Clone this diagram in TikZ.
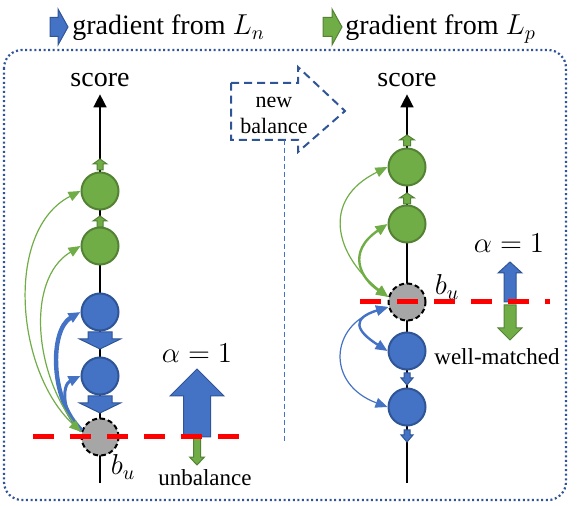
\documentclass[tikz,border=0pt]{standalone}
\usepackage{fontspec}
\setmainfont{Liberation Serif}
\usepackage{tikz}
\usetikzlibrary{arrows.meta,positioning,calc}
\definecolor{gfill}{HTML}{70AD47}
\definecolor{gline}{HTML}{548235}
\definecolor{bfill}{HTML}{4472C4}
\definecolor{bline}{HTML}{2F5597}
\definecolor{ufill}{HTML}{A6A6A6}
% block arrows: style, x, tail, head base, tip, half shaft, half head
\newcommand{\blockv}[7]{\filldraw[#1] ({#2-#6},#3) -- ({#2-#6},#4) -- ({#2-#7},#4) -- (#2,#5) -- ({#2+#7},#4) -- ({#2+#6},#4) -- ({#2+#6},#3) -- cycle;}
\newcommand{\blockh}[7]{\filldraw[#1] (#3,{#2-#6}) -- (#4,{#2-#6}) -- (#4,{#2-#7}) -- (#5,#2) -- (#4,{#2+#7}) -- (#4,{#2+#6}) -- (#3,{#2+#6}) -- cycle;}

\begin{document}
\begin{tikzpicture}[x=0.5pt, y=-0.5pt, >={Triangle[length=6pt,width=5pt]},
  every node/.style={font=\fontsize{14}{16}\selectfont},
  small/.style={font=\fontsize{11.5}{13}\selectfont},
  ball/.style={circle, minimum size=18.5pt, inner sep=0pt, line width=1pt},
  pos ball/.style={ball, fill=gfill, draw=gline},
  neg ball/.style={ball, fill=bfill, draw=bline},
  anchor ball/.style={ball, fill=ufill, draw=black, dash pattern=on 2.5pt off 1.5pt},
  axisline/.style={line width=0.7pt, -{Triangle[length=6.5pt,width=6.5pt]}},
  posgrad/.style={draw=gfill, line width=0.6pt},
  neggrad/.style={draw=bfill, line width=0.6pt},
  posblk/.style={fill=gfill, draw=gline, line width=0.5pt},
  negblk/.style={fill=bfill, draw=bline, line width=0.5pt},
  balline/.style={red, line width=2.5pt, dash pattern=on 10.5pt off 8pt},
  ]
\useasboundingbox (0,0) rectangle (582,506);

% legend
\blockh{negblk}{27}{50}{58}{68}{9.5}{18}
\blockh{posblk}{27}{323}{332}{342}{9.5}{18}
\node[anchor=base west, inner sep=0pt] (legn) at (72,35) {gradient from $L_n$};
\node[anchor=base west, inner sep=0pt] (legp) at (345,35) {gradient from $L_p$};

\draw[bline, line width=1.1pt, dash pattern=on 1pt off 1.3pt, rounded corners=9pt] (4,50) rectangle (566,500);

% new balance
\draw[bline, line width=1pt, dash pattern=on 4pt off 2.5pt] (231,83) -- (298,83) -- (298,67) -- (345,111) -- (298,152) -- (298,140) -- (231,140) -- cycle;
\node[small, align=center, font=\fontsize{11}{13}\selectfont] (nb) at (274,115) {new\\balance};
\coordinate (sept) at (284,140);
\coordinate (sepb) at (284,443);
\draw[bfill, line width=0.5pt, dash pattern=on 2.5pt off 1.5pt] (sept) -- (sepb);

% axes
\node[anchor=base] (scl) at (100,87) {score};
\node[anchor=base] (scr) at (407,87) {score};
\coordinate (axl) at (100,483);
\coordinate (axr) at (407,483);
\draw[axisline] (axl) -- (scl);
\draw[axisline] (axr) -- (scr);

% left: unbalance
\node[pos ball] (gl1) at (100,191) {};
\node[pos ball] (gl2) at (100,246) {};
\node[neg ball] (bl1) at (100,312) {};
\node[neg ball] (bl2) at (100,376) {};
\node[anchor ball] (ul) at (100,437) {};

\draw[neggrad, ->, line width=2.2pt] (ul.160) .. controls +(-32,-30) and +(-31,18) .. (bl1.west);
\draw[neggrad, ->, line width=1.5pt] (ul.160) .. controls +(-20,-15) and +(-19,9) .. (bl2.west);
\draw[posgrad, <->] (ul.165) .. controls +(-66,-62) and +(-76,39) .. (gl1.west);
\draw[posgrad, ->] (ul.165) .. controls +(-47,-52) and +(-56,34) .. (gl2.west);

\blockv{posblk}{100}{170}{164}{159}{3}{7}
\blockv{posblk}{100}{227}{221}{216}{3}{7}
\blockv{negblk}{100}{332}{339}{349}{12}{20.5}
\blockv{negblk}{100}{396}{403}{413}{12}{20.5}
\blockv{negblk}{197}{437}{396}{369}{13.5}{27}
\blockv{posblk}{197}{437}{457}{465}{3.5}{7.5}

% right: well-matched
\node[pos ball] (gr1) at (407,167) {};
\node[pos ball] (gr2) at (407,224) {};
\node[anchor ball] (ur) at (407,302) {};
\node[neg ball] (br1) at (407,351) {};
\node[neg ball] (br2) at (407,407) {};

\draw[posgrad, <->] (ur.165) .. controls +(-53,-42) and +(-67,33) .. (gr1.west);
\draw[posgrad, <->, line width=1.2pt] (ur.165) .. controls +(-28,-19) and +(-41,28) .. (gr2.west);
\draw[neggrad, <->, line width=1.2pt] (ur.195) .. controls +(-36,11) and +(-33,-21) .. (br1.west);
\draw[neggrad, <->] (ur.195) .. controls +(-58,18) and +(-62,-23) .. (br2.west);

\blockv{posblk}{407}{146}{140}{135}{3.5}{7.5}
\blockv{posblk}{407}{204}{198}{193}{3.5}{7.5}
\blockv{negblk}{407}{373}{378}{385}{3}{6}
\blockv{negblk}{407}{430}{435}{442}{3}{6}
\blockv{negblk}{510}{302}{273}{262}{6}{12}
\blockv{posblk}{510}{305}{328}{340}{6}{12}

% balance lines
\coordinate (rl1) at (33,437);
\coordinate (rl2) at (240,437);
\coordinate (rr1) at (360,302);
\coordinate (rr2) at (550,302);
\draw[balline] (rl1) -- (rl2);
\draw[balline] (rr1) -- (rr2);

% labels
\node (bul) at (123,467) {$b_u$};
\node (bur) at (447,287) {$b_u$};
\node (al) at (197,353) {$\alpha=1$};
\node (ar) at (509,243) {$\alpha=1$};
\node[small] (unb) at (205,478) {unbalance};
\node[small] (wm) at (497,357) {well-matched};
\end{tikzpicture}
\end{document}
